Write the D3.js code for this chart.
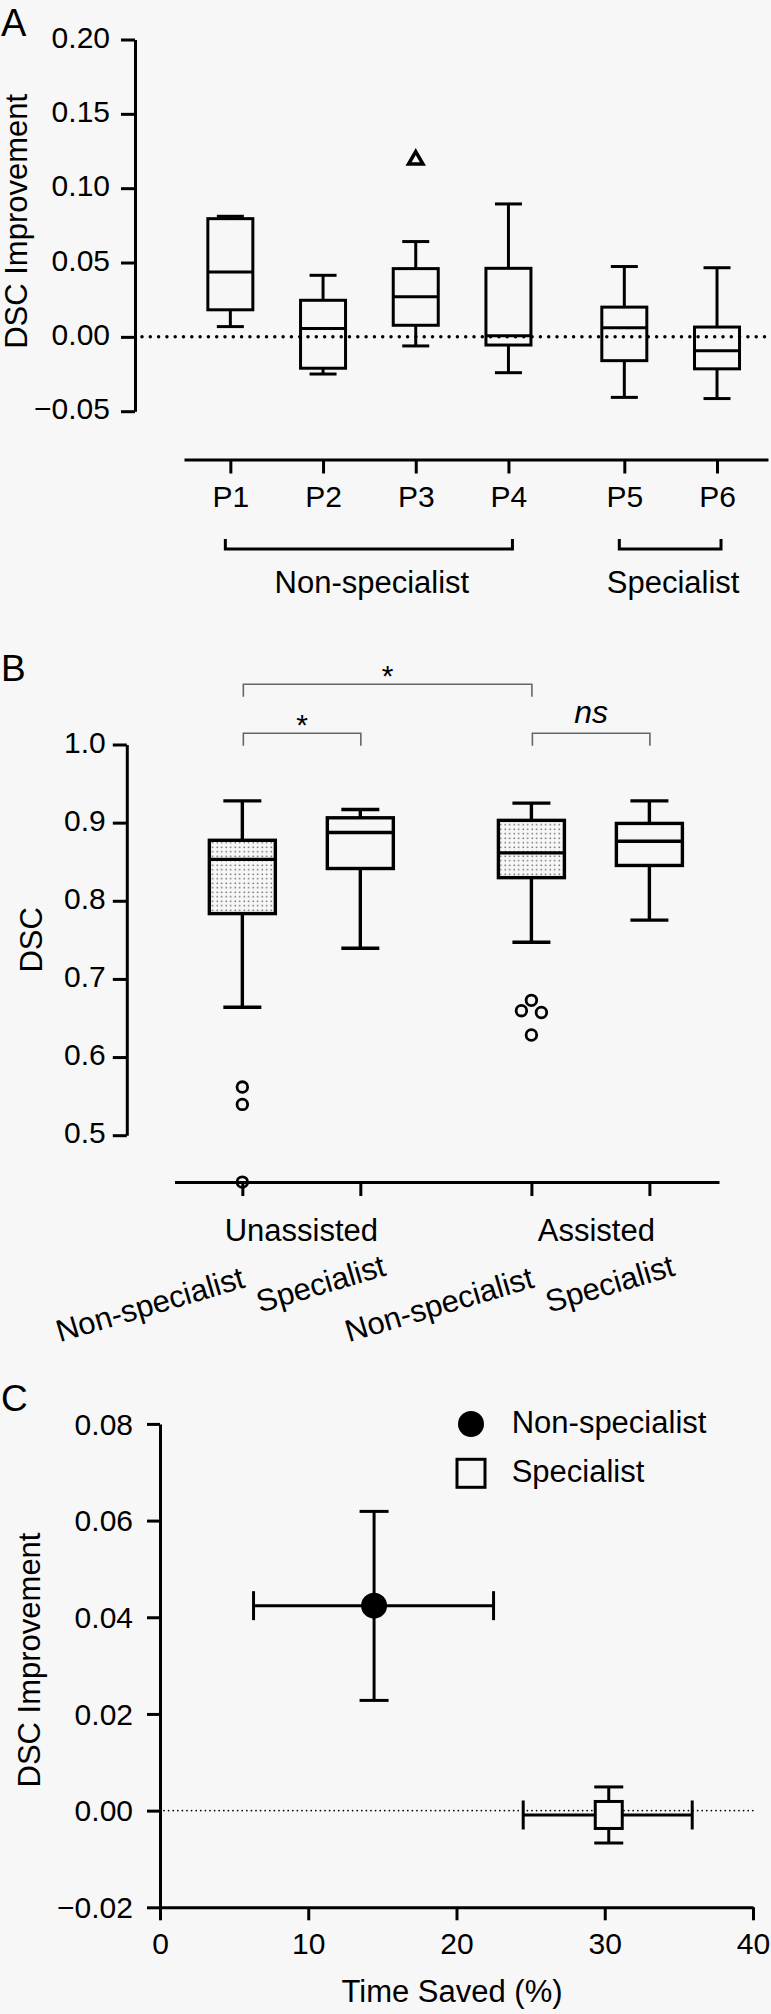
<!DOCTYPE html>
<html>
<head>
<meta charset="utf-8">
<script src="https://cdn.jsdelivr.net/npm/d3@7"></script>
<style>
  body { margin: 0; background: #f7f7f7; }
  text { font-family: "Liberation Sans", Arial, Helvetica, sans-serif; fill: #000; }
</style>
</head>
<body>
<div id="chart"></div>
<script>
// ---- Panel A: DSC improvement per participant ----
const participants = ["P1", "P2", "P3", "P4", "P5", "P6"];
const participantGroup = ["Non-specialist", "Non-specialist", "Non-specialist", "Non-specialist", "Specialist", "Specialist"];
const aMin = [0.0069, -0.0250, -0.0061, -0.0241, -0.0407, -0.0415];
const aQ1 = [0.0182, -0.0211, 0.0078, -0.0055, -0.0160, -0.0215];
const aMed = [0.0437, 0.0056, 0.0269, 0.0008, 0.0061, -0.0093];
const aQ3 = [0.0795, 0.0246, 0.0459, 0.0461, 0.0200, 0.0066];
const aMax = [0.0811, 0.0414, 0.0641, 0.0894, 0.0473, 0.0465];
const aOutliers = [[], [], [0.119], [], [], []];
const aTicks = [-0.05, 0, 0.05, 0.10, 0.15, 0.20];

// ---- Panel B: DSC by assistance and reader ----
const conditions = ["Unassisted", "Unassisted", "Assisted", "Assisted"];
const readers = ["Non-specialist", "Specialist", "Non-specialist", "Specialist"];
const bMin = [0.6637, 0.7392, 0.7470, 0.7753];
const bQ1 = [0.7836, 0.8413, 0.8296, 0.8452];
const bMed = [0.8530, 0.8873, 0.8613, 0.8762];
const bQ3 = [0.8774, 0.9062, 0.9029, 0.8990];
const bMax = [0.9279, 0.9168, 0.9250, 0.9279];
const bOutliers = [[0.5616, 0.5394, 0.4400], [], [0.6726, 0.6593, 0.6570, 0.6282], []];
const bTicks = [0.5, 0.6, 0.7, 0.8, 0.9, 1.0];
const comparisons = [
  { from: 0, to: 2, label: "*" },
  { from: 0, to: 1, label: "*" },
  { from: 2, to: 3, label: "ns" }
];

// ---- Panel C: time saved vs DSC improvement ----
const cGroups = ["Non-specialist", "Specialist"];
const timeMean = [14.44, 30.27];
const timeLo = [6.31, 24.5];
const timeHi = [22.5, 35.9];
const dscMean = [0.0424, -0.0009];
const dscLo = [0.0228, -0.0067];
const dscHi = [0.0619, 0.0049];
const cXTicks = [0, 10, 20, 30, 40];
const cYTicks = [-0.02, 0, 0.02, 0.04, 0.06, 0.08];

const W = 771, H = 2014;
const FONT = 30;
const LW = 3;

const svg = d3.select("#chart").append("svg")
  .attr("width", W).attr("height", H)
  .style("background", "#f7f7f7");

const defs = svg.append("defs");
const pat = defs.append("pattern")
  .attr("id", "stipple")
  .attr("patternUnits", "userSpaceOnUse")
  .attr("width", 4.5).attr("height", 4.5);
pat.append("rect").attr("width", 4.5).attr("height", 4.5).attr("fill", "#f7f7f7");
pat.append("circle").attr("cx", 1.2).attr("cy", 1.2).attr("r", 0.8).attr("fill", "#555");

function styleAxis(g, dy) {
  g.select(".domain").attr("stroke", "#000").attr("stroke-width", LW);
  g.selectAll(".tick line").attr("stroke", "#000").attr("stroke-width", LW);
  g.selectAll(".tick text")
    .attr("font-size", FONT)
    .attr("font-family", "Liberation Sans, Arial, sans-serif")
    .attr("fill", "#000");
  if (dy) g.selectAll(".tick text").attr("dy", dy);
}

function drawBox(g, cx, y, s, boxW, capW, fill, sw) {
  const b = g.append("g").attr("stroke", "#000").attr("stroke-width", sw).attr("fill", "none");
  // whiskers
  b.append("line").attr("x1", cx).attr("x2", cx).attr("y1", y(s.max)).attr("y2", y(s.q3));
  b.append("line").attr("x1", cx).attr("x2", cx).attr("y1", y(s.q1)).attr("y2", y(s.min));
  b.append("line").attr("x1", cx - capW / 2).attr("x2", cx + capW / 2).attr("y1", y(s.max)).attr("y2", y(s.max));
  b.append("line").attr("x1", cx - capW / 2).attr("x2", cx + capW / 2).attr("y1", y(s.min)).attr("y2", y(s.min));
  b.append("rect")
    .attr("x", cx - boxW / 2).attr("width", boxW)
    .attr("y", y(s.q3)).attr("height", y(s.q1) - y(s.q3))
    .attr("fill", fill);
  b.append("line").attr("x1", cx - boxW / 2).attr("x2", cx + boxW / 2).attr("y1", y(s.med)).attr("y2", y(s.med));
}

// slot positions: index plus a gap each time the group changes
function slotsFor(groups, gap) {
  const uniq = [...new Set(groups)];
  return groups.map((gname, i) => i + gap * uniq.indexOf(gname));
}

// =================== Panel A ===================
{
  const g = svg.append("g");
  const slots = slotsFor(participantGroup, 0.25);
  const x = d3.scaleLinear().domain([-0.5, 5.8]).range([184, 768]);
  const y = d3.scaleLinear().domain([-0.05, 0.20]).range([411.2, 39.5]);

  g.append("text").attr("x", 1).attr("y", 36).attr("font-size", 38).text("A");

  const ya = g.append("g").attr("transform", "translate(135,0)")
    .call(d3.axisLeft(y).tickValues(aTicks).tickSize(14).tickSizeOuter(0).tickPadding(11)
      .tickFormat(d3.format(".2f")));
  styleAxis(ya, "0.25em");

  g.append("text")
    .attr("transform", `translate(27,${(y.range()[0] + y.range()[1]) / 2 - 4}) rotate(-90)`)
    .attr("text-anchor", "middle").attr("font-size", 31)
    .text("DSC Improvement");

  // zero reference
  g.append("line")
    .attr("x1", 142).attr("x2", 766)
    .attr("y1", y(0)).attr("y2", y(0))
    .attr("stroke", "#000").attr("stroke-width", 3.5)
    .attr("stroke-linecap", "round").attr("stroke-dasharray", "0 8.3");

  participants.forEach((p, i) => {
    drawBox(g, x(slots[i]), y,
      { min: aMin[i], q1: aQ1[i], med: aMed[i], q3: aQ3[i], max: aMax[i] },
      45, 27, "none", LW);
    aOutliers[i].forEach(v => {
      g.append("path")
        .attr("transform", `translate(${x(slots[i])},${y(v)})`)
        .attr("d", d3.symbol(d3.symbolTriangle, 90)())
        .attr("fill", "none").attr("stroke", "#000").attr("stroke-width", 3.5);
    });
  });

  const xa = g.append("g").attr("transform", "translate(0,459.5)")
    .call(d3.axisBottom(x).tickValues(slots).tickSize(14).tickSizeOuter(0).tickPadding(12)
      .tickFormat((d, i) => participants[i]));
  styleAxis(xa);

  // group brackets
  const uniq = [...new Set(participantGroup)];
  uniq.forEach(gname => {
    const idx = participantGroup.map((d, i) => d === gname ? i : -1).filter(i => i >= 0);
    const x0 = x(slots[idx[0]]) - 5, x1 = x(slots[idx[idx.length - 1]]) + 4;
    g.append("path")
      .attr("d", `M${x0},539V549H${x1}V539`)
      .attr("fill", "none").attr("stroke", "#000").attr("stroke-width", LW);
    g.append("text")
      .attr("x", (x0 + x1) / 2 + 3).attr("y", 592.7)
      .attr("text-anchor", "middle").attr("font-size", 31)
      .text(gname);
  });
}

// =================== Panel B ===================
{
  const g = svg.append("g");
  const slots = slotsFor(conditions, 0.45);
  const x = d3.scaleLinear().domain([-0.575, 4.04]).range([174.5, 719]);
  const y = d3.scaleLinear().domain([0.5, 1.0]).range([1135.2, 744.5]);

  g.append("text").attr("x", 1).attr("y", 680.7).attr("font-size", 37).text("B");

  const ya = g.append("g").attr("transform", "translate(126.8,0)")
    .call(d3.axisLeft(y).tickValues(bTicks).tickSize(14).tickSizeOuter(0).tickPadding(7)
      .tickFormat(d3.format(".1f")));
  styleAxis(ya, "0.25em");

  g.append("text")
    .attr("transform", `translate(42,${(y.range()[0] + y.range()[1]) / 2}) rotate(-90)`)
    .attr("text-anchor", "middle").attr("font-size", 31)
    .text("DSC");

  const xa = g.append("g").attr("transform", "translate(0,1182)")
    .call(d3.axisBottom(x).tickValues(slots).tickSize(14).tickSizeOuter(0).tickFormat(""));
  styleAxis(xa);

  conditions.forEach((c, i) => {
    const cx = x(slots[i]);
    drawBox(g, cx, y,
      { min: bMin[i], q1: bQ1[i], med: bMed[i], q3: bQ3[i], max: bMax[i] },
      66, 38, readers[i] === "Non-specialist" ? "url(#stipple)" : "none", 3.4);

    // outliers, dodged sideways when they would overlap
    const placed = [];
    bOutliers[i].slice().sort((a, b) => b - a).forEach(v => {
      const py = y(v);
      const off = [0, -10, 10, -20, 20].find(o =>
        placed.every(p => Math.hypot(p[0] - (cx + o), p[1] - py) >= 13));
      placed.push([cx + off, py]);
    });
    g.selectAll(null).data(placed).enter().append("circle")
      .attr("cx", d => d[0]).attr("cy", d => d[1]).attr("r", 5.3)
      .attr("fill", "none").attr("stroke", "#000").attr("stroke-width", 2.8);

    // rotated reader labels
    const nonSpec = readers[i] === "Non-specialist";
    g.append("text")
      .attr("transform", `translate(${cx + (nonSpec ? 4 : 27)},${nonSpec ? 1287 : 1275}) rotate(-16.5)`)
      .attr("text-anchor", "end").attr("font-size", 31)
      .text(readers[i]);
  });

  // condition labels
  [...new Set(conditions)].forEach(c => {
    const xs = slots.filter((s, i) => conditions[i] === c).map(x);
    g.append("text")
      .attr("x", d3.mean(xs) + (c === "Assisted" ? 6 : 0)).attr("y", 1240.7)
      .attr("text-anchor", "middle").attr("font-size", 31)
      .text(c);
  });

  // significance brackets
  comparisons.forEach(cmp => {
    const level = cmp.to - cmp.from > 1 ? 1 : 0;
    const by = 733.3 - level * 49;
    const x0 = x(slots[cmp.from]) + 1, x1 = x(slots[cmp.to]) + 0.5;
    g.append("path")
      .attr("d", `M${x0},${by + 12.5}V${by}H${x1}V${by + 12.5}`)
      .attr("fill", "none").attr("stroke", "#666").attr("stroke-width", 1.6);
    const t = g.append("text")
      .attr("x", (x0 + x1) / 2).attr("text-anchor", "middle")
      .text(cmp.label);
    if (cmp.label === "ns") {
      t.attr("y", by - 10.6).attr("font-size", 32).attr("font-style", "italic");
    } else {
      t.attr("y", by + 2).attr("font-size", 30);
    }
  });
}

// =================== Panel C ===================
{
  const g = svg.append("g");
  const x = d3.scaleLinear().domain([0, 40]).range([160, 753]);
  const y = d3.scaleLinear().domain([-0.02, 0.08]).range([1907.3, 1423.9]);

  g.append("text").attr("x", 1).attr("y", 1411).attr("font-size", 37).text("C");

  const ya = g.append("g").attr("transform", "translate(160,0)")
    .call(d3.axisLeft(y).tickValues(cYTicks).tickSize(13).tickSizeOuter(0).tickPadding(14)
      .tickFormat(d3.format(".2f")));
  styleAxis(ya, "0.34em");

  const xa = g.append("g").attr("transform", "translate(0,1907.3)")
    .call(d3.axisBottom(x).tickValues(cXTicks).tickSize(13).tickSizeOuter(0).tickPadding(12));
  styleAxis(xa);

  g.append("text")
    .attr("transform", `translate(39.5,1660) rotate(-90)`)
    .attr("text-anchor", "middle").attr("font-size", 31)
    .text("DSC Improvement");
  g.append("text")
    .attr("x", 452).attr("y", 2001.5)
    .attr("text-anchor", "middle").attr("font-size", 31)
    .text("Time Saved (%)");

  g.append("line")
    .attr("x1", 164).attr("x2", 753)
    .attr("y1", y(0)).attr("y2", y(0))
    .attr("stroke", "#000").attr("stroke-width", 1.8)
    .attr("stroke-linecap", "round").attr("stroke-dasharray", "0 4.6");

  cGroups.forEach((gname, i) => {
    const cx = x(timeMean[i]), cy = y(dscMean[i]);
    const e = g.append("g").attr("stroke", "#000").attr("stroke-width", LW);
    e.append("line").attr("x1", x(timeLo[i])).attr("x2", x(timeHi[i])).attr("y1", cy).attr("y2", cy);
    e.append("line").attr("x1", x(timeLo[i])).attr("x2", x(timeLo[i])).attr("y1", cy - 14.5).attr("y2", cy + 14.5);
    e.append("line").attr("x1", x(timeHi[i])).attr("x2", x(timeHi[i])).attr("y1", cy - 14.5).attr("y2", cy + 14.5);
    e.append("line").attr("x1", cx).attr("x2", cx).attr("y1", y(dscLo[i])).attr("y2", y(dscHi[i]));
    e.append("line").attr("x1", cx - 14.5).attr("x2", cx + 14.5).attr("y1", y(dscLo[i])).attr("y2", y(dscLo[i]));
    e.append("line").attr("x1", cx - 14.5).attr("x2", cx + 14.5).attr("y1", y(dscHi[i])).attr("y2", y(dscHi[i]));
    if (i === 0) {
      g.append("circle").attr("cx", cx).attr("cy", cy).attr("r", 13).attr("fill", "#000");
    } else {
      g.append("rect").attr("x", cx - 13.5).attr("y", cy - 13.5).attr("width", 27).attr("height", 27)
        .attr("fill", "#f7f7f7").attr("stroke", "#000").attr("stroke-width", LW);
    }
  });

  // legend
  const leg = g.append("g");
  cGroups.forEach((gname, i) => {
    const ly = 1424 + i * 49.3;
    if (i === 0) {
      leg.append("circle").attr("cx", 471).attr("cy", ly).attr("r", 13).attr("fill", "#000");
    } else {
      leg.append("rect").attr("x", 457).attr("y", ly - 14).attr("width", 28).attr("height", 28)
        .attr("fill", "none").attr("stroke", "#000").attr("stroke-width", LW);
    }
    leg.append("text").attr("x", 511.7).attr("y", ly + 8.7).attr("font-size", 31).text(gname);
  });
}
</script>
</body>
</html>
